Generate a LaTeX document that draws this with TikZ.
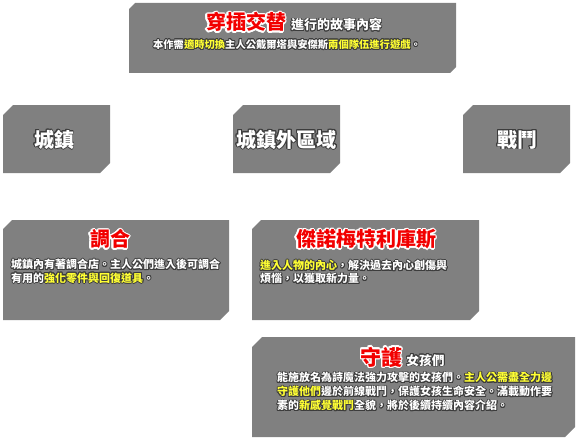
\documentclass[tikz,border=0pt]{standalone}
\usepackage{fontspec}
\usepackage[copies]{contour}
\newfontfamily\cjk{Noto Sans CJK TC}
\definecolor{panelgray}{HTML}{808080}
\definecolor{redc}{HTML}{F20000}
\definecolor{hilite}{HTML}{FFFF33}
\definecolor{shadowc}{HTML}{3C3C3C}
\contournumber{16}
\newcommand{\wtxt}[1]{{\contourlength{0.8pt}\contour{shadowc}{#1}}}
\newcommand{\ytxt}[1]{\textcolor{hilite}{\contourlength{0.8pt}\contour{shadowc}{#1}}}
\newcommand{\rtxt}[1]{\textcolor{redc}{\contourlength{1.3pt}\contour{white}{#1}}}

\begin{document}
\begin{tikzpicture}[x=1pt,y=-1pt,
  panel/.style={fill=panelgray},
  ttl/.style={font=\cjk\bfseries\fontsize{20}{24}\selectfont,text=white,inner sep=0pt},
  tx/.style={anchor=west,font=\cjk\bfseries\fontsize{11}{13}\selectfont,text=white,inner sep=0pt}]
\useasboundingbox (0,0) rectangle (577,441);
% panels: left/top/right/bottom/cut
\foreach \l/\t/\r/\b/\c in {129/3/456/73/6, 3/105/110/173/10, 233/105/340/173/10,
  463/105/570/173/10, 3/220/229/320/9, 252/220/479/320/9, 252/337/575/437/10}
  \fill[panel] ({\l+\c},\t) -- (\r,\t) -- (\r,{\b-\c}) -- ({\r-\c},\b) -- (\l,\b) -- (\l,{\t+\c}) -- cycle;

% top panel
\node[ttl,anchor=base] (story) at (294,30) {\rtxt{穿插交替}\hspace{5pt}{\fontsize{13}{15}\selectfont\wtxt{進行的故事內容}}};
\node[tx,anchor=center,font=\cjk\bfseries\fontsize{10.3}{12}\selectfont] (intro) at (287,45)
  {\wtxt{本作需}\ytxt{適時切換}\wtxt{主人公戴爾塔與安傑斯}\ytxt{兩個隊伍進行遊戲}\wtxt{。}};

% the three areas
\node[ttl] (town) at (54,140) {\wtxt{城鎮}};
\node[ttl] (field) at (286.5,140) {\wtxt{城鎮外區域}};
\node[ttl] (battle) at (517.5,140) {\wtxt{戰鬥}};

% mixing
\node[ttl] (mix) at (110,240) {\rtxt{調合}};
\node[tx] (mix1) at (11,265) {\wtxt{城鎮內有著調合店。主人公們進入後可調合}};
\node[tx] (mix2) at (11,278.5) {\wtxt{有用的}\ytxt{強化零件與回復道具}\wtxt{。}};

% cosmosphere
\node[ttl] (cosmo) at (366,240) {\rtxt{傑諾梅特利庫斯}};
\node[tx] (cosmo1) at (260,266) {\ytxt{進入人物的內心}\wtxt{，解決過去內心創傷與}};
\node[tx] (cosmo2) at (260,279) {\wtxt{煩惱，以獲取新力量。}};

% guard
\node[ttl,anchor=base] (guard) at (402.5,365) {\fontsize{21}{24}\selectfont\rtxt{守護}\hspace{4pt}{\fontsize{12.7}{15}\selectfont\wtxt{女孩們}}};
\node[tx] (guard1) at (277,378) {\wtxt{能施放名為詩魔法強力攻擊的女孩們。}\ytxt{主人公需盡全力邊}};
\node[tx] (guard2) at (277,392) {\ytxt{守護他們}\wtxt{邊於前線戰鬥，保護女孩生命安全。滿載動作要}};
\node[tx] (guard3) at (277,406) {\wtxt{素的}\ytxt{新感覺戰鬥}\wtxt{全貌，將於後續持續內容介紹。}};
\end{tikzpicture}
\end{document}
